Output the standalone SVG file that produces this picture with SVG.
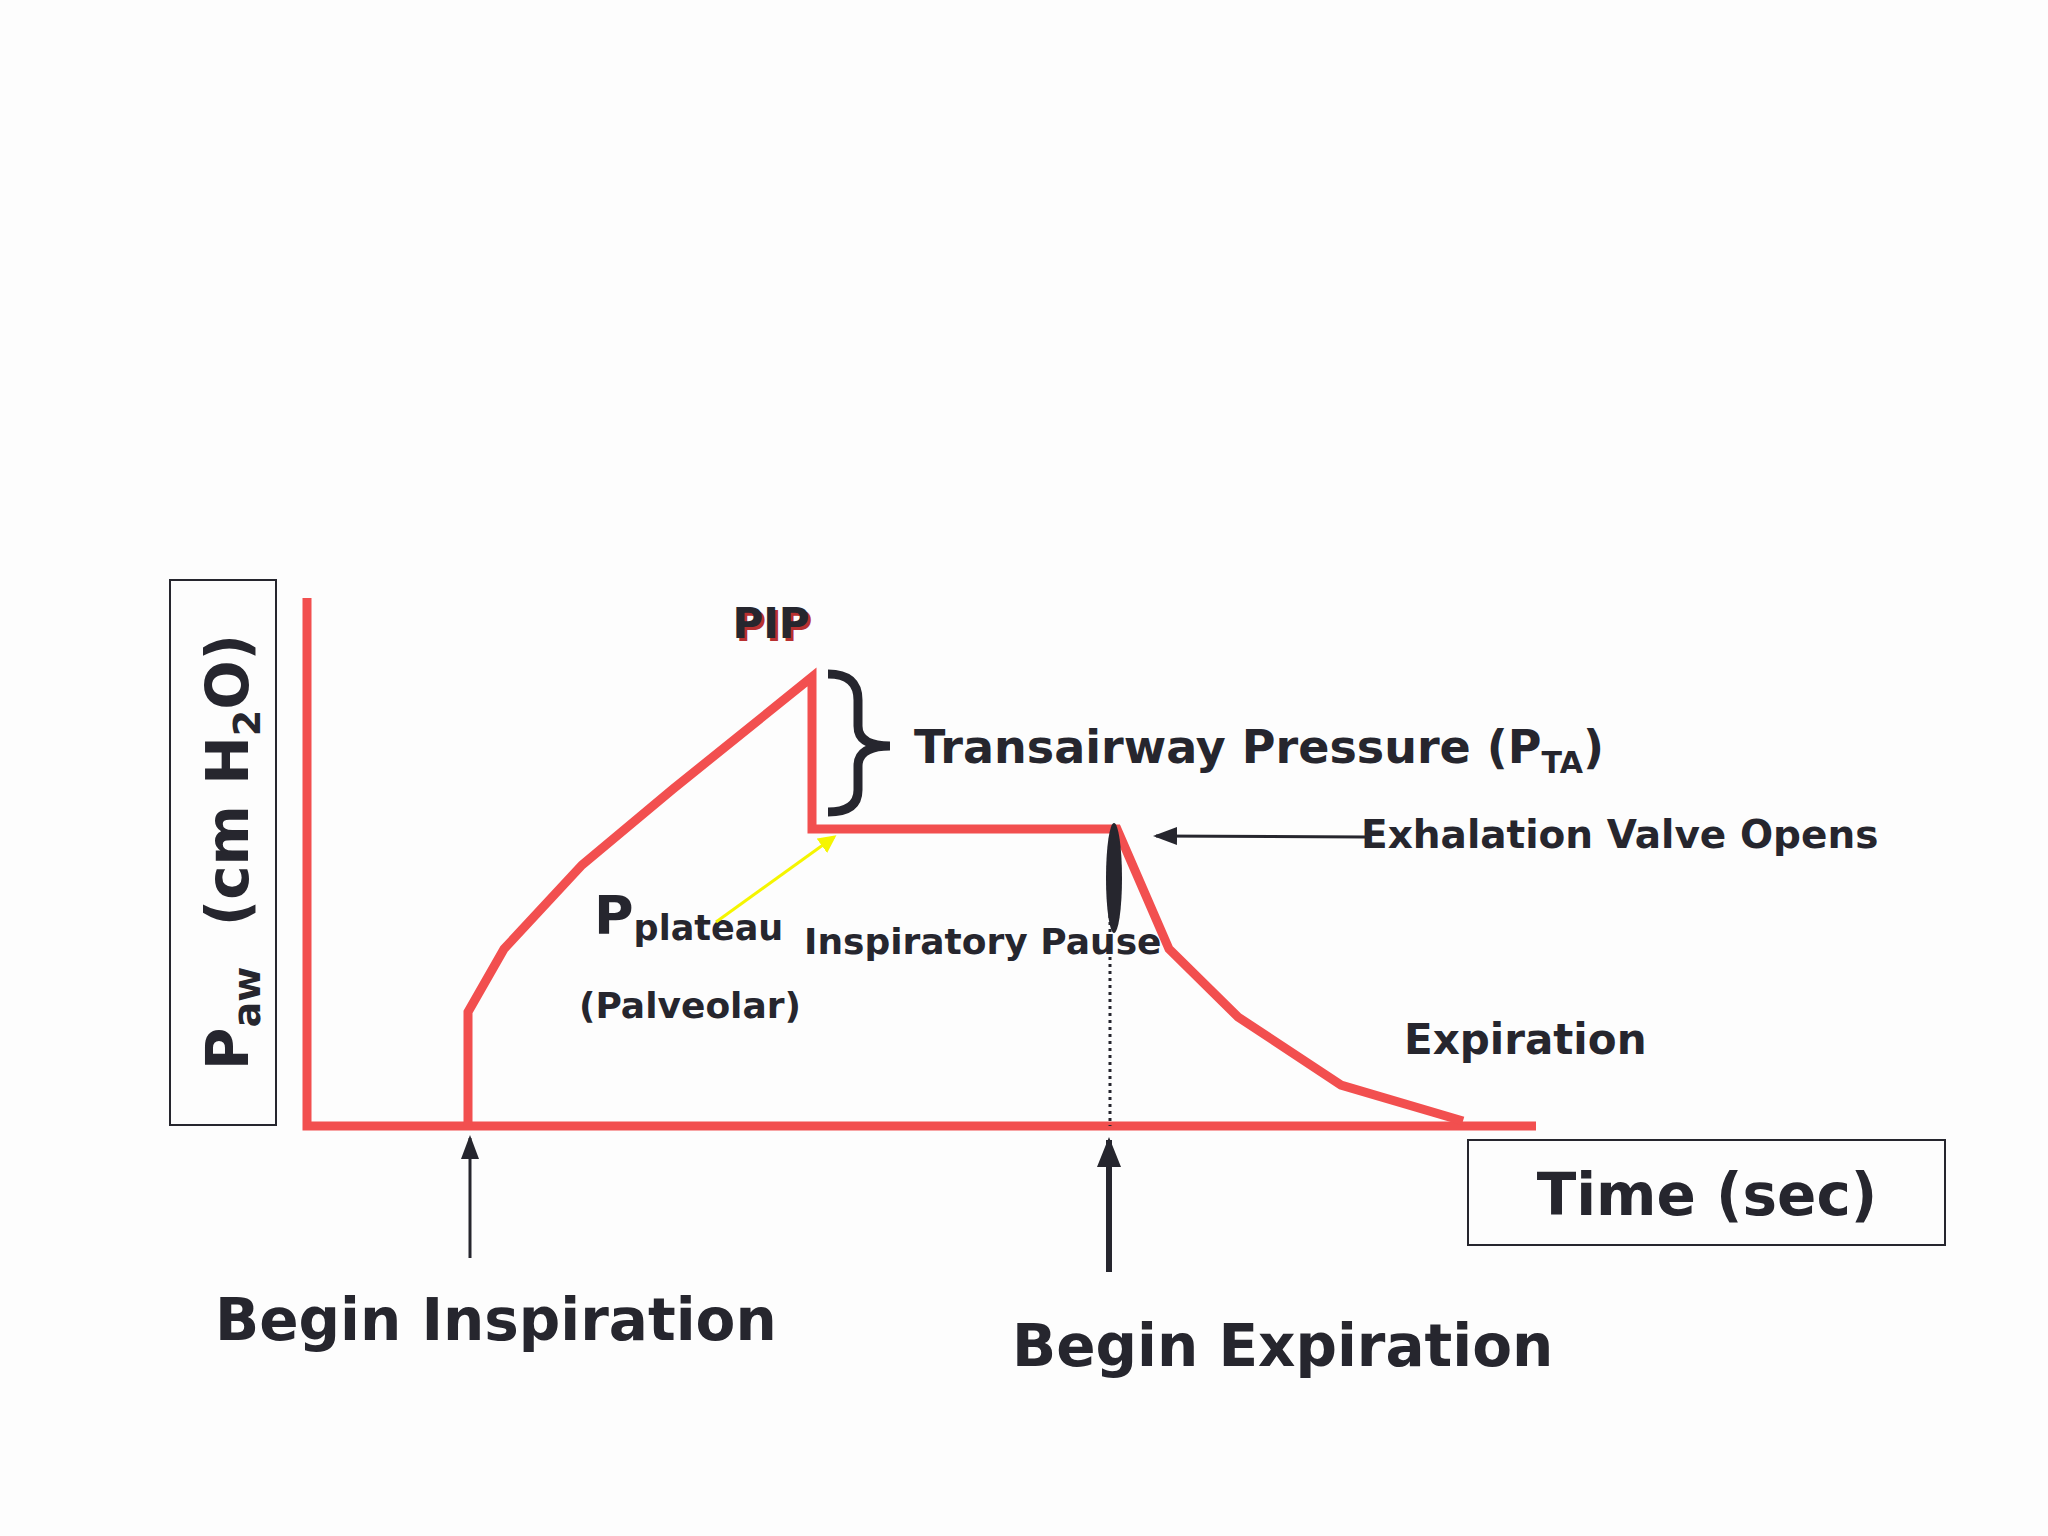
<svg xmlns="http://www.w3.org/2000/svg" width="2048" height="1536" viewBox="0 0 2048 1536">
<style>
.t{font-family:"DejaVu Sans","Liberation Sans",sans-serif;font-weight:bold;fill:#26262e}
.red{fill:none;stroke:#f24f4f;stroke-width:9;stroke-linejoin:miter}
.box{fill:none;stroke:#26262e;stroke-width:2}
</style>
<defs>
<marker id="ah" markerWidth="8" markerHeight="8" refX="7" refY="4" orient="auto" markerUnits="strokeWidth"><path d="M0,1 L8,4 L0,7 z" fill="#26262e"/></marker>
<marker id="ah2" markerWidth="5" markerHeight="5" refX="4.5" refY="2.5" orient="auto" markerUnits="strokeWidth"><path d="M0,0.5 L5,2.5 L0,4.5 z" fill="#26262e"/></marker>
<marker id="ay" markerWidth="6" markerHeight="6" refX="5" refY="3" orient="auto" markerUnits="strokeWidth"><path d="M0,0 L6,3 L0,6 z" fill="#f5f500"/></marker>
</defs>
<rect width="2048" height="1536" fill="#fdfdfd"/>
<g id="axes">
<path class="red" d="M307,598 V1126 H1536"/>
</g>
<g id="curve">
<path class="red" d="M468,1126 V1012 L504,949 L582,865 L673,789 L812,677 V829 H1117 L1169,949 L1238,1017 L1341,1085 L1463,1121"/>
</g>
<g id="ylabel">
<rect class="box" x="170" y="580" width="106" height="545"/>
<text class="t" transform="translate(248,1070) rotate(-90)" font-size="58">P<tspan font-size="38" dy="12">aw</tspan><tspan dy="-12" xml:space="preserve">  (cm H</tspan><tspan font-size="38" dy="12">2</tspan><tspan dy="-12">O)</tspan></text>
</g>
<g id="timebox">
<rect class="box" x="1468" y="1140" width="477" height="105"/>
<text class="t" x="1707" y="1215" font-size="58" text-anchor="middle">Time (sec)</text>
</g>
<g id="pip">
<text class="t" x="774" y="641" font-size="42" text-anchor="middle" style="fill:#b83030">PIP</text>
<text class="t" x="771" y="638" font-size="42" text-anchor="middle">PIP</text>
</g>
<g id="brace">
<path d="M828,674 Q858,674 858,700 V726 Q858,746 890,746 Q858,746 858,766 V790 Q858,812 828,812" fill="none" stroke="#26262e" stroke-width="9"/>
<text class="t" x="914" y="763" font-size="46">Transairway Pressure (P<tspan font-size="30" dy="10">TA</tspan><tspan dy="-10">)</tspan></text>
</g>
<g id="exhal">
<text class="t" x="1361" y="848" font-size="39">Exhalation Valve Opens</text>
<ellipse cx="1114" cy="878" rx="8" ry="55" fill="#26262e"/>
<text class="t" x="804" y="954" font-size="36">Inspiratory Pause</text>
</g>
<g id="plateau">
<text class="t" x="594" y="934" font-size="54">P<tspan font-size="35" dy="6">plateau</tspan></text>
<text class="t" x="579" y="1018" font-size="36">(Palveolar)</text>
</g>
<g id="expiration">
<text class="t" x="1404" y="1054" font-size="42">Expiration</text>
</g>
<g id="begins">
<text class="t" x="215" y="1340" font-size="58">Begin Inspiration</text>
<text class="t" x="1012" y="1366" font-size="58">Begin Expiration</text>
</g>
<g id="connectors">
<line x1="1365" y1="837" x2="1156" y2="836" stroke="#26262e" stroke-width="3" marker-end="url(#ah)"/>
<line x1="1110" y1="880" x2="1110" y2="1126" stroke="#26262e" stroke-width="3" stroke-dasharray="3,4"/>
<line x1="716" y1="922" x2="834" y2="837" stroke="#f5f500" stroke-width="3" marker-end="url(#ay)"/>
<line x1="470" y1="1258" x2="470" y2="1138" stroke="#26262e" stroke-width="3" marker-end="url(#ah)"/>
<line x1="1109" y1="1272" x2="1109" y2="1140" stroke="#26262e" stroke-width="6" marker-end="url(#ah2)"/>
</g>
</svg>
